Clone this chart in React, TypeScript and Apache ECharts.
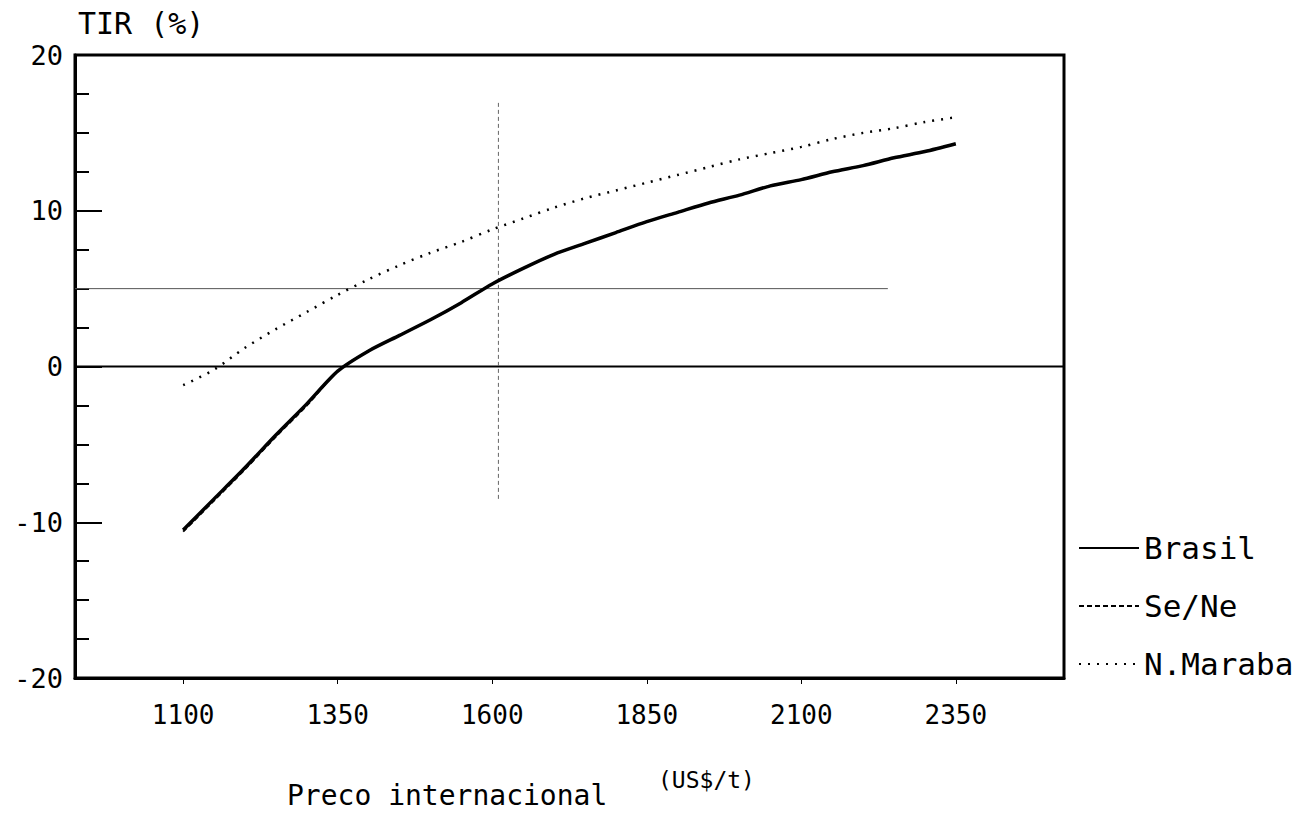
import React, { useEffect, useRef } from "react";
import * as echarts from "echarts";

// International price (US$/t)
const prices = [1100, 1150, 1200, 1250, 1300, 1350, 1400, 1450, 1500, 1550, 1600, 1650, 1700, 1750, 1800, 1850, 1900, 1950, 2000, 2050, 2100, 2150, 2200, 2250, 2300, 2350];
// TIR (%) per region
const brasil = [-10.5, -8.5, -6.5, -4.4, -2.4, -0.3, 1.0, 2.0, 3.0, 4.1, 5.3, 6.3, 7.2, 7.9, 8.6, 9.3, 9.9, 10.5, 11.0, 11.6, 12.0, 12.5, 12.9, 13.4, 13.8, 14.3];
const seNe = [-10.6, -8.6, -6.6, -4.5, -2.5, -0.3, 1.0, 2.0, 3.0, 4.1, 5.3, 6.3, 7.2, 7.9, 8.6, 9.3, 9.9, 10.5, 11.0, 11.6, 12.0, 12.5, 12.9, 13.4, 13.8, 14.3];
const nMaraba = [-1.2, -0.2, 1.2, 2.4, 3.5, 4.6, 5.6, 6.5, 7.3, 8.0, 8.8, 9.5, 10.2, 10.8, 11.3, 11.8, 12.3, 12.8, 13.3, 13.7, 14.1, 14.6, 15.0, 15.3, 15.7, 16.0];

const xTickValues = [1100, 1350, 1600, 1850, 2100, 2350];
const xMin = 925;
const xMax = 2525;
const yMin = -20;
const yMax = 20;

// reference lines
const zeroLine = [[925, 0], [2525, 0]];
const refHorizontal = [[925, 5], [2240, 5]];
const refVertical = [[1610, -8.5], [1610, 17]];

const seriesNames = ["Brasil", "Se/Ne", "N.Maraba"];

const FONT = "'DejaVu Sans Mono', monospace";

export default function App() {
  const ref = useRef<HTMLDivElement>(null);

  useEffect(() => {
    if (!ref.current) return;
    const chart = echarts.init(ref.current, null, { renderer: "svg" });
    const pair = (ys: number[]) => prices.map((x, i) => [x, ys[i]]);

    chart.setOption({
      animation: false,
      backgroundColor: "#fff",
      grid: {
        left: 75,
        right: 251,
        top: 55,
        bottom: 141,
        show: true,
        borderColor: "#000",
        borderWidth: 3,
        containLabel: false,
      },
      legend: {
        data: seriesNames,
        orient: "vertical",
        left: 1073,
        top: 527,
        itemWidth: 60,
        itemHeight: 14,
        itemGap: 26,
        itemStyle: { opacity: 0 },
        textStyle: { fontFamily: FONT, fontSize: 31, color: "#000", lineHeight: 32 },
      },
      xAxis: {
        type: "value",
        min: xMin,
        max: xMax,
        axisLine: { show: true, onZero: false, lineStyle: { color: "#000", width: 3 } },
        axisTick: { show: true, customValues: xTickValues, length: 6, lineStyle: { color: "#000", width: 1 } },
        axisLabel: {
          customValues: xTickValues,
          formatter: (v: number) => String(v),
          fontFamily: FONT,
          fontSize: 26,
          color: "#000",
          margin: 24,
        },
        splitLine: { show: false },
      },
      yAxis: {
        type: "value",
        min: yMin,
        max: yMax,
        interval: 10,
        axisLine: { show: true, onZero: false, lineStyle: { color: "#000", width: 3 } },
        axisTick: { show: true, inside: true, length: 27, lineStyle: { color: "#000", width: 2 } },
        minorTick: { show: true, splitNumber: 4, length: 14, lineStyle: { color: "#000", width: 2 } },
        axisLabel: { fontFamily: FONT, fontSize: 27, color: "#000", margin: 12 },
        splitLine: { show: false },
        minorSplitLine: { show: false },
      },
      graphic: [
        { type: "text", left: 78, top: 8, style: { text: "TIR (%)", font: `30px ${FONT}`, fill: "#000" } },
        { type: "text", left: 287, top: 781, style: { text: "Preco internacional", font: `28px ${FONT}`, fill: "#000" } },
        { type: "text", left: 658, top: 768, style: { text: "(US$/t)", font: `23px ${FONT}`, fill: "#000" } },
      ],
      series: [
        {
          name: "ref0",
          type: "line",
          data: zeroLine,
          symbol: "none",
          silent: true,
          lineStyle: { color: "#000", width: 2 },
        },
        {
          name: "ref5",
          type: "line",
          data: refHorizontal,
          symbol: "none",
          silent: true,
          lineStyle: { color: "#555", width: 1 },
        },
        {
          name: "refV",
          type: "line",
          data: refVertical,
          symbol: "none",
          silent: true,
          lineStyle: { color: "#666", width: 1, type: [4, 3] },
        },
        {
          name: "Brasil",
          type: "line",
          data: pair(brasil),
          symbol: "none",
          smooth: 0.25,
          lineStyle: { color: "#000", width: 3.5 },
          itemStyle: { color: "#000" },
        },
        {
          name: "Se/Ne",
          type: "line",
          data: pair(seNe),
          symbol: "none",
          smooth: 0.25,
          lineStyle: { color: "#000", width: 2, type: [5, 3] },
          itemStyle: { color: "#000" },
        },
        {
          name: "N.Maraba",
          type: "line",
          data: pair(nMaraba),
          symbol: "none",
          smooth: 0.3,
          lineStyle: { color: "#000", width: 2.5, type: [2, 7] },
          itemStyle: { color: "#000" },
        },
      ],
    });

    return () => chart.dispose();
  }, []);

  return (
    <div
      ref={ref}
      style={{ position: "absolute", left: 0, top: 0, width: 1315, height: 819 }}
    />
  );
}
